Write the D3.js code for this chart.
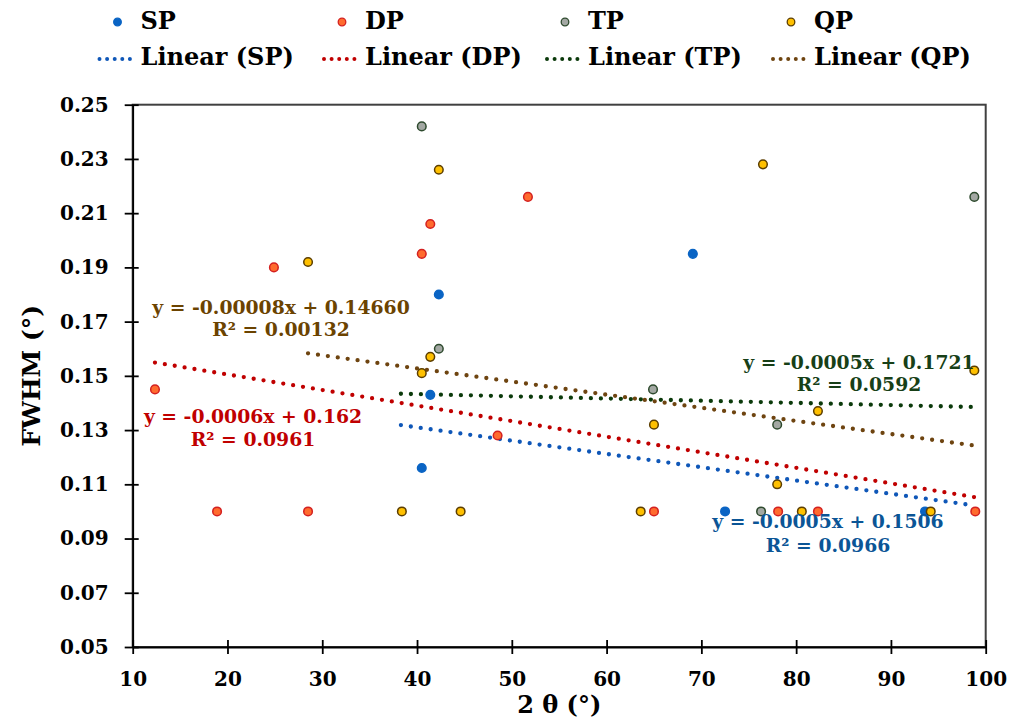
<!DOCTYPE html>
<html>
<head>
<meta charset="utf-8">
<script src="https://cdn.jsdelivr.net/npm/d3@7"></script>
<style>
  html, body { margin: 0; padding: 0; background: #fff; }
  svg { display: block; font-family: "DejaVu Serif", serif; font-weight: bold; }
</style>
</head>
<body>
<svg id="chart" width="1020" height="722"></svg>
<script>
// ---------------- DATA ----------------
const seriesNames = ["SP", "DP", "TP", "QP"];

const spX = [41.4, 40.5, 42.3, 69.1, 72.5, 93.6];
const spY = [0.143, 0.116, 0.180, 0.195, 0.100, 0.100];

const dpX = [12.35, 18.9, 24.9, 28.5, 40.5, 41.4, 48.5, 51.7, 65.0, 78.1, 82.3, 98.9];
const dpY = [0.145, 0.100, 0.190, 0.100, 0.195, 0.206, 0.128, 0.216, 0.100, 0.100, 0.100, 0.100];

const tpX = [40.5, 42.3, 64.9, 76.3, 78.0, 98.8];
const tpY = [0.242, 0.160, 0.145, 0.100, 0.132, 0.216];

const qpX = [28.5, 38.4, 40.5, 41.4, 42.3, 44.6, 63.6, 65.0, 76.5, 78.0, 80.6, 82.3, 94.2, 98.8];
const qpY = [0.192, 0.100, 0.151, 0.157, 0.226, 0.100, 0.100, 0.132, 0.228, 0.110, 0.100, 0.137, 0.100, 0.152];

// Linear trendlines as drawn (SP, DP, TP, QP)
const trendSlope     = [-0.00049, -0.000574, -0.000081, -0.000484];
const trendIntercept = [0.1506, 0.1620, 0.1465, 0.1721];
const trendStart     = [38.3, 12.35, 38.3, 28.5];
const trendEnd       = [98.6, 98.9, 98.8, 99.0];

// Trendline labels as printed in the chart
const eqText = ["y = -0.0005x + 0.1506", "y = -0.0006x + 0.162", "y = -0.0005x + 0.1721", "y = -0.00008x + 0.14660"];
const r2Text = ["R² = 0.0966", "R² = 0.0961", "R² = 0.0592", "R² = 0.00132"];

const xTicks = [10, 20, 30, 40, 50, 60, 70, 80, 90, 100];
const yTicks = [0.05, 0.07, 0.09, 0.11, 0.13, 0.15, 0.17, 0.19, 0.21, 0.23, 0.25];

const xTitle = "2 θ (°)";
const yTitle = "FWHM (°)";

// ---------------- STYLE / LAYOUT ----------------
const markerFill   = ["#0A64C4", "#FF6B2E", "#A3A8A3", "#FFC000"];
const markerStroke = ["#0A64C4", "#D42020", "#2E4A2E", "#5C3E00"];
const trendColor   = ["#0F57B8", "#C00000", "#0B3A0B", "#6E4410"];
const labelColor   = ["#0B5596", "#C00000", "#173F17", "#6B4300"];
// label centers [x, y-line1, y-line2] in px
const labelPos = [[828, 523, 547], [253, 418, 441], [859, 364, 386], [281, 309, 331]];

const M = { left: 132.7, right: 985.7, top: 104.7, bottom: 647 };

const svg = d3.select("#chart");

const x = d3.scaleLinear().domain([10, 100]).range([M.left, M.right]);
const y = d3.scaleLinear().domain([0.05, 0.25]).range([M.bottom, M.top]);

const seriesX = [spX, dpX, tpX, qpX];
const seriesY = [spY, dpY, tpY, qpY];

// plot border (top/right)
svg.append("rect")
  .attr("x", M.left).attr("y", M.top)
  .attr("width", M.right - M.left).attr("height", M.bottom - M.top)
  .attr("fill", "none").attr("stroke", "#404040").attr("stroke-width", 2);

// axes
const yAxis = d3.axisLeft(y).tickValues(yTicks).tickFormat(d3.format(".2f")).tickSizeInner(8).tickSizeOuter(0).tickPadding(16);
const gy = svg.append("g").attr("transform", `translate(${M.left},0)`).call(yAxis);
gy.select(".domain").attr("stroke", "#000").attr("stroke-width", 1.8);
gy.selectAll(".tick line").attr("stroke", "#000").attr("stroke-width", 1.8).attr("x2", 6).attr("x1", -8);
gy.selectAll(".tick text").attr("font-size", 20).attr("font-family", "DejaVu Serif").attr("font-weight", "bold").attr("fill", "#000");

const xAxis = d3.axisBottom(x).tickValues(xTicks).tickFormat(d3.format("d")).tickSizeInner(7).tickSizeOuter(0).tickPadding(18);
const gx = svg.append("g").attr("transform", `translate(0,${M.bottom})`).call(xAxis);
gx.select(".domain").attr("stroke", "#000").attr("stroke-width", 1.8);
gx.selectAll(".tick line").attr("stroke", "#000").attr("stroke-width", 1.8).attr("y1", -7).attr("y2", 7);
gx.selectAll(".tick text").attr("font-size", 20).attr("font-family", "DejaVu Serif").attr("font-weight", "bold").attr("fill", "#000");

// axis titles
svg.append("text").attr("x", (M.left + M.right) / 2).attr("y", 706)
  .attr("text-anchor", "middle").attr("dominant-baseline", "middle")
  .attr("font-size", 24).text(xTitle);
svg.append("text").attr("transform", `translate(33,${(M.top + M.bottom) / 2}) rotate(-90)`)
  .attr("text-anchor", "middle").attr("dominant-baseline", "middle")
  .attr("font-size", 25).text(yTitle);

// trendlines
const line = d3.line().x(d => x(d[0])).y(d => y(d[1]));
seriesNames.forEach((name, i) => {
  const pts = [trendStart[i], trendEnd[i]].map(v => [v, trendSlope[i] * v + trendIntercept[i]]);
  svg.append("path").attr("d", line(pts))
    .attr("fill", "none").attr("stroke", trendColor[i]).attr("stroke-width", 4.3)
    .attr("stroke-linecap", "round").attr("stroke-dasharray", "0 10");
});

// points
seriesNames.forEach((name, i) => {
  svg.append("g").selectAll("circle")
    .data(seriesX[i].map((v, j) => [v, seriesY[i][j]]))
    .join("circle")
    .attr("cx", d => x(d[0])).attr("cy", d => y(d[1]))
    .attr("r", 4.3)
    .attr("fill", markerFill[i]).attr("stroke", markerStroke[i]).attr("stroke-width", 1.5);
});

// equation labels
seriesNames.forEach((name, i) => {
  const p = labelPos[i];
  svg.append("text").attr("x", p[0]).attr("y", p[1])
    .attr("text-anchor", "middle").attr("dominant-baseline", "middle")
    .attr("font-size", 18.8).attr("fill", labelColor[i]).text(eqText[i]);
  svg.append("text").attr("x", p[0]).attr("y", p[2])
    .attr("text-anchor", "middle").attr("dominant-baseline", "middle")
    .attr("font-size", 18.8).attr("fill", labelColor[i]).text(r2Text[i]);
});

// legend
const legX = [140.5, 365, 588, 814];
const leg = svg.append("g");
seriesNames.forEach((name, i) => {
  leg.append("circle").attr("cx", legX[i] - 23).attr("cy", 22).attr("r", 3.8)
    .attr("fill", markerFill[i]).attr("stroke", markerStroke[i]).attr("stroke-width", 1.3);
  leg.append("text").attr("x", legX[i]).attr("y", 22).attr("dominant-baseline", "middle")
    .attr("font-size", 24).attr("fill", "#000").text(name);
  leg.append("line").attr("x1", legX[i] - 41).attr("x2", legX[i] - 10).attr("y1", 59).attr("y2", 59)
    .attr("stroke", trendColor[i]).attr("stroke-width", 4).attr("stroke-linecap", "round").attr("stroke-dasharray", "0 7.6");
  leg.append("text").attr("x", legX[i]).attr("y", 58).attr("dominant-baseline", "middle")
    .attr("font-size", 24).attr("fill", "#000").text(`Linear (${name})`);
});
</script>
</body>
</html>
